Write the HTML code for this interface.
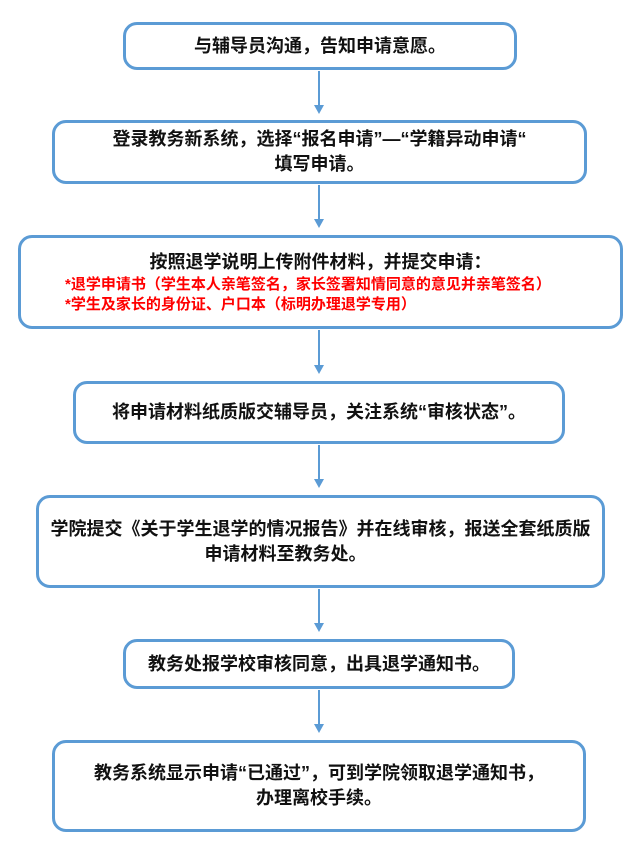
<!DOCTYPE html>
<html><head><meta charset="utf-8"><style>
body{margin:0;width:640px;height:855px;background:#fff;position:relative;font-family:"Liberation Sans","Noto Sans CJK SC",sans-serif;}
.b{position:absolute;box-sizing:border-box;border:3px solid #5b9bd5;border-radius:14px;display:flex;flex-direction:column;justify-content:center;align-items:center;text-align:center;font-weight:bold;font-size:18px;line-height:25px;color:#111;}
.r{color:#f00;font-size:15px;line-height:20px;text-align:left;align-self:flex-start;padding-left:44px}
svg{position:absolute;left:0;top:0}
</style></head><body>
<svg width="640" height="855">
<g stroke="#5b9bd5" stroke-width="2">
<line x1="319" y1="71" x2="319" y2="108"/><path d="M314,105 L319,114 L324,105z" fill="#5b9bd5" stroke="none"/>
<line x1="319" y1="185" x2="319" y2="222"/><path d="M314,219 L319,228 L324,219z" fill="#5b9bd5" stroke="none"/>
<line x1="319" y1="330" x2="319" y2="368"/><path d="M314,365 L319,374 L324,365z" fill="#5b9bd5" stroke="none"/>
<line x1="319" y1="445" x2="319" y2="482"/><path d="M314,479 L319,488 L324,479z" fill="#5b9bd5" stroke="none"/>
<line x1="319" y1="589" x2="319" y2="626"/><path d="M314,623 L319,632 L324,623z" fill="#5b9bd5" stroke="none"/>
<line x1="319" y1="690" x2="319" y2="727"/><path d="M314,724 L319,733 L324,724z" fill="#5b9bd5" stroke="none"/>
</g></svg>
<div class="b" style="left:123px;top:22px;width:394px;height:48px">与辅导员沟通，告知申请意愿。</div>
<div class="b" style="left:52px;top:120px;width:535px;height:64px"><div>登录教务新系统，选择“报名申请”—“学籍异动申请“</div><div>填写申请。</div></div>
<div class="b" style="left:18px;top:235px;width:605px;height:94px"><div>按照退学说明上传附件材料，并提交申请：</div><div class="r">*退学申请书（学生本人亲笔签名，家长签署知情同意的意见并亲笔签名）<br>*学生及家长的身份证、户口本（标明办理退学专用）</div></div>
<div class="b" style="left:73px;top:381px;width:492px;height:63px">将申请材料纸质版交辅导员，关注系统“审核状态”。</div>
<div class="b" style="left:36px;top:495px;width:569px;height:93px"><div style="white-space:nowrap">学院提交《关于学生退学的情况报告》并在线审核，报送全套纸质版</div><div style="padding-right:70px">申请材料至教务处。</div></div>
<div class="b" style="left:123px;top:639px;width:392px;height:50px">教务处报学校审核同意，出具退学通知书。</div>
<div class="b" style="left:52px;top:740px;width:534px;height:92px"><div>教务系统显示申请“已通过”，可到学院领取退学通知书，</div><div>办理离校手续。</div></div>
</body></html>
